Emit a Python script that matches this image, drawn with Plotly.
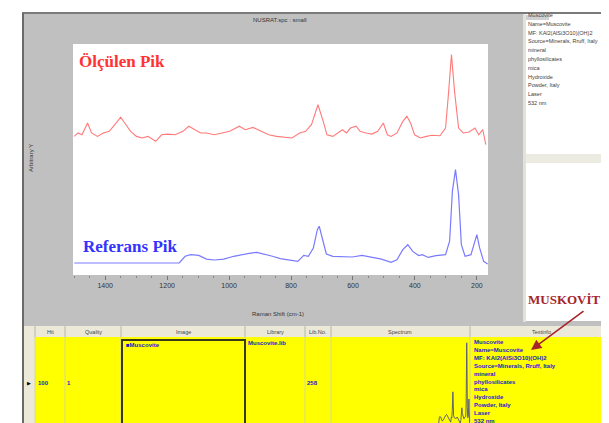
import plotly.graph_objects as go

W, H = 609, 423

# ---- data ----
wn_meas = [1500,1488,1475,1457,1444,1425,1406,1387,1369,1350,1337,1318,1299,1281,1262,1237,1218,1199,1174,1149,
           1130,1111,1092,1073,1048,1023,998,967,948,923,897,872,847,822,797,772,753,734,713,696,
           684,665,646,634,621,608,590,577,558,539,520,502,489,477,458,439,426,414,401,382,
           363,345,319,301,291,282,272,259,244,225,206,194,181,171]
int_meas = [60.0,61.5,60.7,65.8,61.5,60.0,61.5,62.2,65.1,68.3,65.8,62.2,60.0,59.3,60.0,57.9,60.7,61.0,60.7,62.2,
            64.4,62.9,61.5,61.5,60.7,61.5,62.2,64.4,62.9,63.9,62.2,60.7,60.0,59.6,59.3,61.5,62.2,65.1,73.7,66.5,
            60.7,60.0,61.9,62.9,61.5,63.6,64.4,62.2,61.5,61.0,62.2,65.8,60.7,60.0,61.5,66.5,68.7,65.8,60.7,59.3,
            60.0,60.5,60.3,63.6,79.5,95.4,79.5,63.6,61.5,61.9,63.6,60.7,62.9,56.4]

wn_ref = [1500,1161,1142,1124,1098,1073,1048,1017,985,960,935,910,885,860,835,809,778,759,744,728,
          715,709,699,686,665,634,602,571,539,508,477,458,439,423,407,388,376,357,332,301,
          288,279,269,259,250,238,219,209,200,191,178,165]
int_ref = [5.2,5.2,8.1,8.8,8.5,6.9,6.5,6.9,8.1,8.8,9.4,9.8,9.1,8.1,7.1,6.7,5.9,8.5,8.1,11.7,
           19.6,21.1,16.0,9.1,8.1,7.9,7.8,8.5,7.6,6.9,5.5,6.6,11.0,13.1,10.2,8.4,8.8,7.6,8.4,8.8,
           14.6,36.2,45.6,34.8,13.1,8.1,8.8,13.1,17.5,11.7,5.9,4.8]

x_ticks = [1400, 1200, 1000, 800, 600, 400, 200]

info_lines = ["Muscovite", "Name=Muscovite", "MF: KAl2(AlSi3O10)(OH)2", "Source=Minerals, Rruff, Italy",
              "mineral", "phyllosilicates", "mica", "Hydroxide", "Powder, Italy", "Laser", "532 nm"]
table_headers = ["Hit", "Quality", "Image", "Library", "Lib.No.", "Spectrum", "Textinfo"]
header_x = [42, 85, 175, 267, 310, 392, 533]
col_edges = [27, 57, 113, 237, 297, 323, 462]


def px(x):
    return x / W


def py(y):
    return 1 - y / H


fig = go.Figure()
fig.add_trace(go.Scatter(x=wn_meas, y=int_meas, mode="lines",
                         line=dict(color="#ff7a7a", width=1.1), xaxis="x", yaxis="y",
                         showlegend=False, hoverinfo="skip"))
fig.add_trace(go.Scatter(x=wn_ref, y=int_ref, mode="lines",
                         line=dict(color="#7a7aff", width=1.2), xaxis="x", yaxis="y",
                         showlegend=False, hoverinfo="skip"))
fig.add_trace(go.Scatter(x=wn_ref, y=int_ref, mode="lines",
                         line=dict(color="#55557a", width=0.9), xaxis="x2", yaxis="y2",
                         showlegend=False, hoverinfo="skip"))

shapes = []


def rect(x0, y0, x1, y1, fill=None, line=None, lw=0, layer="below"):
    shapes.append(dict(type="rect", xref="paper", yref="paper",
                       x0=px(x0), x1=px(x1), y0=py(y1), y1=py(y0),
                       fillcolor=fill if fill else "rgba(0,0,0,0)",
                       line=dict(color=line if line else "rgba(0,0,0,0)", width=lw),
                       layer=layer))


def hline(x0, x1, y, color, w=1, layer="below"):
    shapes.append(dict(type="line", xref="paper", yref="paper", x0=px(x0), x1=px(x1),
                       y0=py(y), y1=py(y), line=dict(color=color, width=w), layer=layer))


def vline(x, y0, y1, color, w=1, layer="below"):
    shapes.append(dict(type="line", xref="paper", yref="paper", x0=px(x), x1=px(x),
                       y0=py(y0), y1=py(y1), line=dict(color=color, width=w), layer=layer))


# gray main panel
rect(15, 5, 604, 320, fill="#c0c0c0")
# white plot area
rect(65, 36, 480, 267, fill="#ffffff")
# right info boxes
rect(515, 5, 518, 314, fill="#e4e2d8")
rect(518, 6, 601, 146, fill="#ffffff")
rect(518, 146, 601, 155, fill="#ecebe2")
rect(518, 155, 601, 313, fill="#ffffff")
rect(518, 7, 541, 12, fill="#d0d0d0")
# table header
rect(15, 318, 604, 329, fill="#ece9d8")
# yellow row
rect(27, 329, 604, 419, fill="#ffff00")
rect(15, 329, 27, 419, fill="#ece9d8")
for cx in col_edges:
    vline(cx, 318, 329, "#b8b6a8")
    vline(cx, 329, 419, "#d8d890")
# image cell frame
rect(114, 332, 237, 418, line="#3a3a1a", lw=2)
# frame borders
hline(14, 605, 5, "#7a7a7a", 2)
vline(15, 5, 420, "#6a6a6a", 2)
vline(604, 5, 420, "#7a7a7a", 2)
hline(14, 605, 419.5, "#7a7a7a", 2)

annotations = []


def text(x, y, s, size=6, color="#333333", xanchor="left", family="Liberation Sans", bold=False, angle=0):
    annotations.append(dict(x=px(x), y=py(y), xref="paper", yref="paper", text=("<b>%s</b>" % s) if bold else s,
                            showarrow=False, xanchor=xanchor, yanchor="middle", textangle=angle,
                            borderpad=0,
                            font=dict(size=size, color=color, family=family)))


text(272, 12, "NUSRAT.spc : small", size=6, xanchor="center")
text(270, 306, "Raman Shift (cm-1)", size=6, xanchor="center")
text(23, 150, "Arbitrary Y", size=6, xanchor="center", angle=-90)
text(70, 54, "Ölçülen Pik", size=17, color="#ff3333", family="Liberation Serif", bold=True)
text(74, 238, "Referans Pik", size=17, color="#3333ff", family="Liberation Serif", bold=True)
text(556, 291, "MUSKOVİT", size=13, color="#a8242c", family="Liberation Serif", bold=True, xanchor="center")

for i, s in enumerate(info_lines):
    text(519, 7 + i * 8.8, s, size=5.5, color="#404040")

for hx, s in zip(header_x, table_headers):
    text(hx, 324, s, size=5.5, color="#444444", xanchor="center")

for i, s in enumerate(info_lines):
    text(465, 334 + i * 7.9, s, size=6, color="#1a1acc", bold=True)

text(21, 375, "▶", size=5, color="#000000", xanchor="center")
text(29, 375, "100", size=6, color="#1a1acc", bold=True)
text(58, 375, "1", size=6, color="#1a1acc", bold=True)
text(117, 337, "■Muscovite", size=6, color="#1a1acc", bold=True)
text(239, 335, "Muscovite.lib", size=6, color="#1a1acc", bold=True)
text(298, 375, "258", size=6, color="#1a1acc", bold=True)

annotations.append(dict(x=px(523), y=py(342), xref="paper", yref="paper", ax=54, ay=-40,
                        showarrow=True, arrowhead=2, arrowsize=1.3, arrowwidth=1.6,
                        arrowcolor="#a8242c", text=""))

fig.update_layout(
    width=W, height=H, margin=dict(l=0, r=0, t=0, b=0),
    paper_bgcolor="#ffffff", plot_bgcolor="rgba(0,0,0,0)",
    shapes=shapes, annotations=annotations, showlegend=False,
    xaxis=dict(domain=[px(65), px(480)], range=[1504, 164], anchor="y",
               tickvals=x_ticks, ticks="outside", ticklen=4, tickcolor="#777777",
               minor=dict(dtick=50, ticks="outside", ticklen=2, tickcolor="#888888"),
               tickfont=dict(size=7, color="#333333", family="Liberation Sans"),
               showgrid=False, zeroline=False, showline=False),
    yaxis=dict(domain=[py(267), py(36)], range=[0, 100], anchor="x",
               showticklabels=False, showgrid=False, zeroline=False, ticks=""),
    xaxis2=dict(domain=[px(323), px(462)], range=[4585, 165], anchor="y2",
                showticklabels=False, showgrid=False, zeroline=False, ticks="",
                showline=True, linecolor="#9a9a7a", linewidth=1),
    yaxis2=dict(domain=[py(418), py(333)], range=[4.0, 46.5], anchor="x2",
                showticklabels=False, showgrid=False, zeroline=False, ticks=""),
)

fig.write_html("out.html")
